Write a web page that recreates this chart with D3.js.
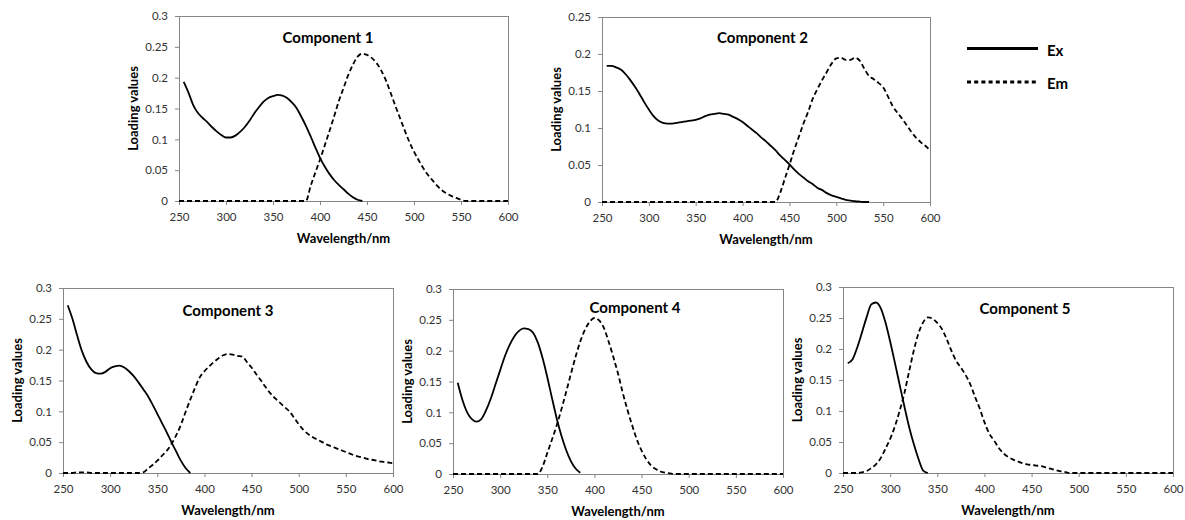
<!DOCTYPE html>
<html>
<head>
<meta charset="utf-8">
<script src="https://cdn.jsdelivr.net/npm/d3@7"></script>
<style>
  body { margin: 0; background: #fff; }
  svg { display: block; font-family: Lato, "Open Sans", sans-serif; }
  .axis .tick text { font-size: 11.5px; fill: #333; font-family: Lato, "Open Sans", sans-serif; }
  .axis .tick line, .axis .domain { stroke: #868686; }
  .ttl { font-weight: bold; fill: #000; }
</style>
</head>
<body>
<svg id="chart" width="1185" height="520"></svg>
<script>
// wavelength grids (nm)
var exWl = [255, 260, 265, 270, 275, 280, 285, 290, 295, 300, 305, 310, 315, 320, 325, 330, 335, 340, 345, 350,
  355, 360, 365, 370, 375, 380, 385, 390, 395, 400, 405, 410, 415, 420, 425, 430, 435, 440, 445, 450,
  455, 460, 465, 470, 475, 480, 485, 490, 495, 500, 505, 510, 515, 520, 525, 530, 535];
var emWl = [250, 255, 260, 265, 270, 275, 280, 285, 290, 295, 300, 305, 310, 315, 320, 325, 330, 335, 340, 345,
  350, 355, 360, 365, 370, 375, 380, 385, 390, 395, 400, 405, 410, 415, 420, 425, 430, 435, 440, 445,
  450, 455, 460, 465, 470, 475, 480, 485, 490, 495, 500, 505, 510, 515, 520, 525, 530, 535, 540, 545,
  550, 555, 560, 565, 570, 575, 580, 585, 590, 595, 600];

var xTicks = [250, 300, 350, 400, 450, 500, 550, 600];
var yTicks03 = [0, 0.05, 0.1, 0.15, 0.2, 0.25, 0.3];
var yTicks025 = [0, 0.05, 0.1, 0.15, 0.2, 0.25];

// loading values
var ex1 = [0.193, 0.176, 0.156, 0.143, 0.135, 0.128, 0.120, 0.113, 0.107, 0.103, 0.103, 0.106, 0.112, 0.120, 0.130,
  0.142, 0.152, 0.161, 0.167, 0.170, 0.172, 0.171, 0.167, 0.160, 0.151, 0.137, 0.122, 0.105, 0.087, 0.070,
  0.056, 0.044, 0.034, 0.026, 0.019, 0.012, 0.006, 0.002, 0];
var em1 = [0, 0, 0, 0, 0, 0, 0, 0, 0, 0, 0, 0, 0, 0, 0, 0, 0, 0, 0, 0, 0, 0, 0, 0, 0, 0, 0, 0,
  0.024, 0.046, 0.067, 0.090, 0.113, 0.137, 0.162, 0.183, 0.204, 0.221, 0.234, 0.239, 0.237, 0.232, 0.224,
  0.212, 0.196, 0.176, 0.155, 0.135, 0.115, 0.096, 0.080, 0.066, 0.053, 0.042, 0.033, 0.024, 0.017, 0.012,
  0.008, 0.005, 0.002, 0, 0, 0, 0, 0, 0, 0, 0, 0, 0];

var ex2 = [0.184, 0.184, 0.182, 0.179, 0.173, 0.165, 0.156, 0.146, 0.135, 0.125, 0.116, 0.110, 0.107, 0.106, 0.106,
  0.107, 0.108, 0.109, 0.110, 0.111, 0.113, 0.116, 0.118, 0.119, 0.120, 0.119, 0.118, 0.115, 0.112, 0.108,
  0.103, 0.098, 0.093, 0.087, 0.082, 0.076, 0.070, 0.063, 0.057, 0.051, 0.044, 0.038, 0.033, 0.028, 0.024,
  0.019, 0.016, 0.012, 0.009, 0.007, 0.005, 0.003, 0.002, 0.001, 0.0005, 0, 0];
var em2 = [0, 0, 0, 0, 0, 0, 0, 0, 0, 0, 0, 0, 0, 0, 0, 0, 0, 0, 0, 0, 0, 0, 0, 0, 0, 0, 0, 0, 0, 0, 0, 0, 0, 0, 0, 0, 0, 0,
  0.012, 0.031, 0.050, 0.070, 0.088, 0.106, 0.122, 0.140, 0.153, 0.165, 0.176, 0.187, 0.194, 0.195, 0.192,
  0.192, 0.195, 0.191, 0.180, 0.170, 0.166, 0.161, 0.155, 0.143, 0.130, 0.121, 0.113, 0.104, 0.095, 0.087,
  0.081, 0.076, 0.070];

var ex3 = [0.272, 0.250, 0.223, 0.198, 0.180, 0.168, 0.162, 0.161, 0.164, 0.170, 0.173, 0.174, 0.171, 0.165, 0.157,
  0.147, 0.136, 0.125, 0.111, 0.096, 0.081, 0.066, 0.050, 0.035, 0.020, 0.008, 0];
var em3 = [0, 0, 0, 0.001, 0.001, 0.001, 0, 0, 0, 0, 0, 0, 0, 0, 0, 0, 0,
  0.001, 0.007, 0.013, 0.020, 0.028, 0.036, 0.047, 0.061, 0.078, 0.099, 0.119, 0.138, 0.155, 0.165, 0.173,
  0.180, 0.186, 0.191, 0.193, 0.192, 0.190, 0.189, 0.180, 0.171, 0.160, 0.150, 0.139, 0.129, 0.121, 0.114,
  0.107, 0.100, 0.090, 0.079, 0.070, 0.063, 0.058, 0.054, 0.050, 0.046, 0.043, 0.040, 0.037, 0.034, 0.031,
  0.028, 0.026, 0.024, 0.022, 0.021, 0.019, 0.018, 0.017, 0.016];

var ex4 = [0.148, 0.120, 0.100, 0.089, 0.085, 0.089, 0.103, 0.122, 0.145, 0.168, 0.191, 0.209, 0.223, 0.232, 0.236,
  0.235, 0.229, 0.213, 0.188, 0.157, 0.123, 0.090, 0.062, 0.039, 0.021, 0.009, 0.002];
var em4 = [0, 0, 0, 0, 0, 0, 0, 0, 0, 0, 0, 0, 0, 0, 0, 0, 0, 0, 0,
  0.012, 0.034, 0.056, 0.079, 0.105, 0.133, 0.162, 0.190, 0.215, 0.234, 0.247, 0.253, 0.249, 0.237, 0.215,
  0.190, 0.163, 0.132, 0.104, 0.079, 0.056, 0.038, 0.024, 0.014, 0.008, 0.004, 0.002, 0.001,
  0, 0, 0, 0, 0, 0, 0, 0, 0, 0, 0, 0, 0, 0, 0, 0, 0, 0, 0, 0, 0, 0, 0, 0];

var ex5 = [0.177, 0.183, 0.202, 0.226, 0.251, 0.272, 0.275, 0.266, 0.243, 0.212, 0.178, 0.143, 0.108, 0.075, 0.047,
  0.023, 0.004, 0];
var em5 = [0, 0, 0, 0, 0.001, 0.003, 0.008, 0.014, 0.024, 0.039, 0.055, 0.075, 0.100, 0.128, 0.163, 0.197, 0.225,
  0.243, 0.251, 0.249, 0.242, 0.232, 0.216, 0.197, 0.181, 0.170, 0.158, 0.143, 0.123, 0.104, 0.082, 0.064,
  0.053, 0.041, 0.032, 0.026, 0.022, 0.019, 0.016, 0.014, 0.013, 0.012, 0.011, 0.009, 0.007, 0.005, 0.003,
  0.002, 0, 0, 0, 0, 0, 0, 0, 0, 0, 0, 0, 0, 0, 0, 0, 0, 0, 0, 0, 0, 0, 0, 0];

var names = ["Component 1", "Component 2", "Component 3", "Component 4", "Component 5"];
var exData = [ex1, ex2, ex3, ex4, ex5];
var emData = [em1, em2, em3, em4, em5];
var yTickSets = [yTicks03, yTicks025, yTicks03, yTicks03, yTicks03];

// plot-area boxes and title positions (pixels)
var boxes = [
  {x: 179, y: 16, w: 329, h: 185, tx: 149, ty: 21.5},
  {x: 602, y: 17, w: 328, h: 185, tx: 160.5, ty: 20.5},
  {x: 63, y: 288, w: 330, h: 185, tx: 165, ty: 23},
  {x: 453, y: 289, w: 330, h: 185, tx: 182, ty: 19},
  {x: 843, y: 287, w: 330, h: 186, tx: 182, ty: 22}
];

var svg = d3.select("#chart");

function fmt(d) { return d === 0 ? "0" : String(+d.toFixed(2)); }

names.forEach(function(name, k) {
  var b = boxes[k];
  var ticks = yTickSets[k];
  var g = svg.append("g").attr("transform", "translate(" + b.x + "," + b.y + ")");

  var x = d3.scaleLinear().domain([250, 600]).range([0, b.w]);
  var y = d3.scaleLinear().domain([0, d3.max(ticks)]).range([b.h, 0]);

  g.append("rect")
    .attr("x", 0.5).attr("y", 0.5)
    .attr("width", b.w).attr("height", b.h)
    .attr("fill", "none").attr("stroke", "#868686");

  g.append("g").attr("class", "axis")
    .call(d3.axisLeft(y).tickValues(ticks).tickFormat(fmt).tickSize(4).tickSizeOuter(0).tickPadding(7));

  g.append("g").attr("class", "axis")
    .attr("transform", "translate(0," + b.h + ")")
    .call(d3.axisBottom(x).tickValues(xTicks).tickSize(4).tickSizeOuter(0).tickPadding(8));

  var line = d3.line()
    .x(function(d) { return x(d[0]); })
    .y(function(d) { return y(d[1]); })
    .curve(d3.curveMonotoneX);

  var emPts = emData[k].map(function(v, i) { return [emWl[i], v]; });
  var exPts = exData[k].map(function(v, i) { return [exWl[i], v]; });

  g.append("path").datum(emPts).attr("d", line)
    .attr("fill", "none").attr("stroke", "#000").attr("stroke-width", 1.8)
    .attr("stroke-dasharray", "5,3");

  g.append("path").datum(exPts).attr("d", line)
    .attr("fill", "none").attr("stroke", "#000").attr("stroke-width", 1.8);

  g.append("text").attr("class", "ttl")
    .attr("x", b.tx).attr("y", b.ty + 5.4)
    .attr("text-anchor", "middle").style("font-size", "15px")
    .text(name);

  g.append("text").attr("class", "ttl")
    .attr("x", b.w / 2).attr("y", b.h + 37 + 4.7)
    .attr("text-anchor", "middle").style("font-size", "13px")
    .text("Wavelength/nm");

  g.append("text").attr("class", "ttl")
    .attr("transform", "translate(" + (-45.5 + 4.7) + "," + (b.h / 2) + ") rotate(-90)")
    .attr("text-anchor", "middle").style("font-size", "13px")
    .text("Loading values");
});

// legend
var legend = svg.append("g");
legend.append("line").attr("x1", 967).attr("x2", 1038).attr("y1", 48.5).attr("y2", 48.5)
  .attr("stroke", "#000").attr("stroke-width", 3);
legend.append("line").attr("x1", 967).attr("x2", 1038).attr("y1", 82).attr("y2", 82)
  .attr("stroke", "#000").attr("stroke-width", 3).attr("stroke-dasharray", "4,3.2");
legend.append("text").attr("class", "ttl").attr("x", 1047).attr("y", 55.5)
  .style("font-size", "15px").text("Ex");
legend.append("text").attr("class", "ttl").attr("x", 1047).attr("y", 89)
  .style("font-size", "15px").text("Em");
</script>
</body>
</html>
